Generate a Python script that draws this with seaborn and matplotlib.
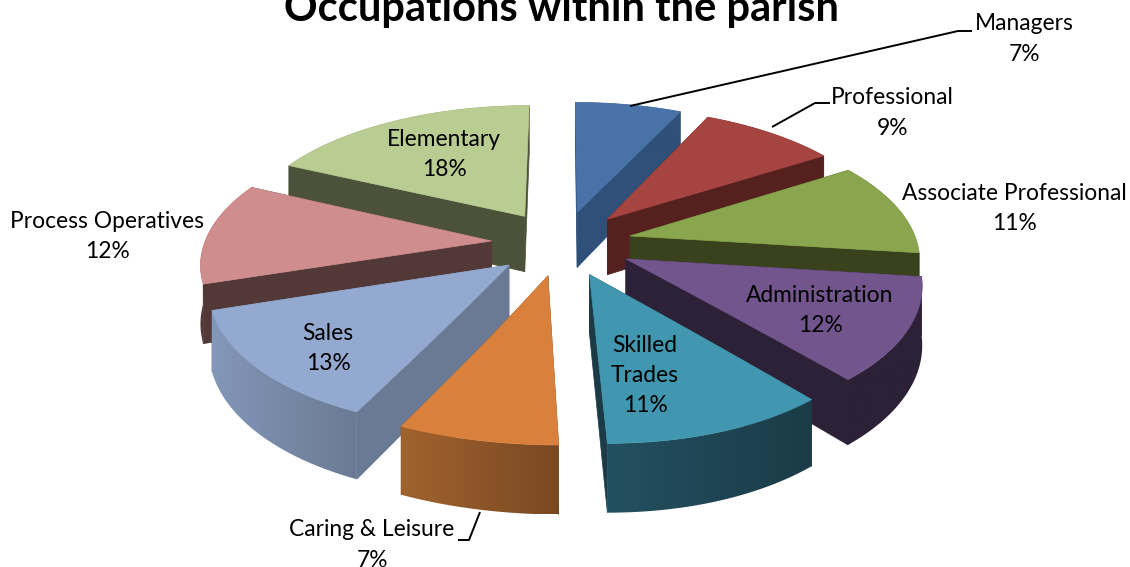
import numpy as np
import matplotlib
matplotlib.use('Agg')
import matplotlib.pyplot as plt
from matplotlib.patches import Polygon
import seaborn as sns

# Occupations within the parish - exploded 3D pie (share in %)
categories = ['Managers', 'Professional', 'Associate Professional', 'Administration',
              'Skilled Trades', 'Caring & Leisure', 'Sales', 'Process Operatives', 'Elementary']
shares = [7, 9, 11, 12, 11, 7, 13, 12, 18]

top_colors = ['#4872A8', '#A64441', '#89A54E', '#71558C', '#4197AF',
              '#D9803C', '#93A9CF', '#CF8E8D', '#B9CC91']
wall_colors = ['#2F5078', '#55211F', '#39411D', '#2C2137', '#1B3C47',
               '#7F4B22', '#6B7A94', '#533838', '#4C523A']
arc_left = ['#2F5078', '#55211F', '#39411D', '#2C2137', '#235060',
            '#A0632E', '#8397B8', '#533838', '#4C523A']
arc_right = ['#2F5078', '#55211F', '#39411D', '#2C2137', '#1B3C47',
             '#7A4822', '#6B7A94', '#533838', '#4C523A']

# back to front
draw_order = [0, 8, 1, 7, 2, 3, 6, 4, 5]

label_pos = {
    'Managers': (1024, 24, 'Managers'),
    'Professional': (892, 98, 'Professional'),
    'Associate Professional': (1014, 193, 'Associate Professional'),
    'Administration': (820, 295, 'Administration'),
    'Skilled Trades': (645, 345, 'Skilled\nTrades'),
    'Caring & Leisure': (372, 530, 'Caring & Leisure'),
    'Sales': (328, 333, 'Sales'),
    'Process Operatives': (107, 221, 'Process Operatives'),
    'Elementary': (444, 139, 'Elementary'),
}
leaders = [
    ([630, 958, 972], [106, 31, 31]),
    ([772, 815, 830], [127, 103, 103]),
    ([480, 469, 458], [512, 540, 540]),
]

CX, CY = 560, 243
R, RY, DEPTH = 287, 134, 57
PERSP = 0.145
EXPLODE = 0.243


def project(x, y, z):
    s = 1 / (1 + PERSP * y)
    # front of the pie leans a bit to the right, less so on the left side
    width = np.where(x > 0, 1.0, 0.45)
    lean = 75 * np.maximum(s - 1, 0) * np.exp(-(x / width) ** 2)
    sx = CX + R * x * s + np.where(x > 0, 2.5, 1) + lean
    sy = CY - (RY * y - DEPTH * z) * s
    return sx, sy


sns.set_theme(style='white')
plt.rcParams['font.family'] = ['Lato', 'DejaVu Sans']

fig = plt.figure(figsize=(11.3, 5.67), dpi=100)
ax = fig.add_axes([0, 0, 1, 1])
ax.axis('off')

edges = np.radians(np.cumsum([0] + shares) * 3.6)

for i in draw_order:
    a0, a1 = edges[i], edges[i + 1]
    mid = (a0 + a1) / 2
    ax0, ay0 = EXPLODE * np.sin(mid), EXPLODE * np.cos(mid)

    angles = np.linspace(a0, a1, 60)
    ox = ax0 + np.sin(angles)
    oy = ay0 + np.cos(angles)

    # radial walls, the one further back first
    for a in sorted([a0, a1], key=lambda v: -np.cos(v)):
        fr = np.linspace(0, 1, 20)
        xs = np.r_[ax0 + fr * np.sin(a), ax0 + fr[::-1] * np.sin(a)]
        ys = np.r_[ay0 + fr * np.cos(a), ay0 + fr[::-1] * np.cos(a)]
        zs = np.r_[np.zeros(20), np.ones(20)]
        px, py = project(xs, ys, zs)
        ax.add_patch(Polygon(np.column_stack([px, py]), closed=True,
                             fc=wall_colors[i], ec=wall_colors[i], lw=0.5, zorder=1))

    # outer wall, a left to right gradient clipped to the arc band
    tx, ty = project(ox, oy, 0)
    bx, by = project(ox, oy, 1)
    band = Polygon(np.column_stack([np.r_[tx, bx[::-1]], np.r_[ty, by[::-1]]]),
                   closed=True, fc='none', ec='none', zorder=1)
    ax.add_patch(band)
    shades = np.array(sns.blend_palette([arc_left[i], arc_right[i]], 128))[None, :, :3]
    img = ax.imshow(shades, extent=(min(tx.min(), bx.min()), max(tx.max(), bx.max()),
                                    max(by.max(), ty.max()), min(by.min(), ty.min())),
                    aspect='auto', interpolation='bilinear', zorder=1)
    img.set_clip_path(band)

    # top face, over this slice's walls
    fr = np.linspace(0, 1, 20)
    sx = np.r_[ax0 + fr * np.sin(a0), ox, ax0 + fr[::-1] * np.sin(a1)]
    sy = np.r_[ay0 + fr * np.cos(a0), oy, ay0 + fr[::-1] * np.cos(a1)]
    px, py = project(sx, sy, 0)
    ax.add_patch(Polygon(np.column_stack([px, py]), closed=True,
                         fc=top_colors[i], ec=top_colors[i], lw=0.5, zorder=1))

for xs, ys in leaders:
    ax.plot(xs, ys, color='black', lw=1.4, zorder=3, solid_capstyle='butt')

for name, share in zip(categories, shares):
    x, y, text = label_pos[name]
    for row, line in enumerate(text.split('\n') + [f'{share}%']):
        ax.text(x, y + row * 30.5, line, ha='center', va='center', fontsize=16.4,
                color='black', zorder=4)

ax.text(561, 9, 'Occupations within the parish', ha='center', va='center',
        fontsize=30, fontweight='bold', color='black', zorder=4)

ax.set_xlim(0, 1130)
ax.set_ylim(567, 0)
fig.savefig('out.png', dpi=100)
